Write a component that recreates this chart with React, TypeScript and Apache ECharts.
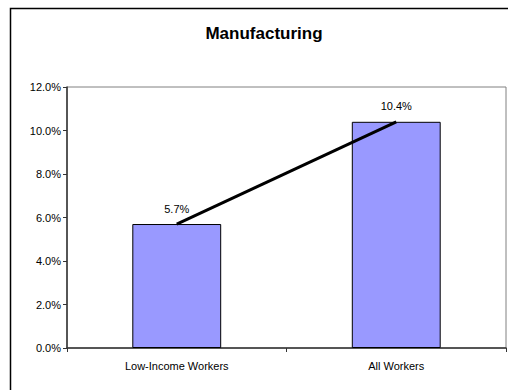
import React, { useEffect, useRef } from "react";
import * as echarts from "echarts";

const categories = ["Low-Income Workers", "All Workers"];
const values = [5.7, 10.4];
const titleText = "Manufacturing";
const yMin = 0;
const yMax = 12;
const yInterval = 2;

export default function App() {
  const ref = useRef<HTMLDivElement>(null);
  useEffect(() => {
    if (!ref.current) return;
    const chart = echarts.init(ref.current, null, { renderer: "svg" });
    const font = "'Liberation Sans', Arial, sans-serif";
    chart.setOption({
      animation: false,
      backgroundColor: "#ffffff",
      title: {
        text: titleText,
        left: 259,
        textAlign: "center",
        top: 20,
        textStyle: { fontFamily: font, fontSize: 17, fontWeight: "bold", color: "#000" },
      },
      graphic: [
        {
          type: "rect",
          shape: { x: 10.5, y: 8.5, width: 520, height: 420 },
          style: { fill: "none", stroke: "#000", lineWidth: 1.5 },
          silent: true,
          z: 100,
        },
      ],
      grid: {
        left: 67,
        top: 87,
        right: 2,
        bottom: 42,
        show: true,
        borderColor: "#808080",
        borderWidth: 1,
        backgroundColor: "#ffffff",
      },
      xAxis: {
        type: "category",
        data: categories,
        axisLine: { lineStyle: { color: "#333", width: 1.5 } },
        axisTick: { show: true, length: 4, lineStyle: { color: "#333" } },
        axisLabel: { fontFamily: font, fontSize: 11, color: "#000", margin: 12 },
      },
      yAxis: {
        type: "value",
        min: yMin,
        max: yMax,
        interval: yInterval,
        axisLine: { show: true, lineStyle: { color: "#333", width: 1.5 } },
        axisTick: { show: true, length: 4, lineStyle: { color: "#333" } },
        splitLine: { show: false },
        axisLabel: {
          fontFamily: font,
          fontSize: 11,
          color: "#000",
          margin: 6,
          formatter: (v: number) => v.toFixed(1) + "%",
        },
      },
      series: [
        {
          type: "bar",
          data: values,
          barWidth: "40.5%",
          itemStyle: { color: "#9999FF", borderColor: "#000", borderWidth: 1 },
          label: {
            show: true,
            position: "top",
            distance: 10,
            fontFamily: font,
            fontSize: 11,
            color: "#000",
            formatter: (p: any) => p.value.toFixed(1) + "%",
          },
        },
        {
          type: "line",
          data: values,
          symbol: "none",
          lineStyle: { color: "#000", width: 3 },
          z: 5,
        },
      ],
    });
    return () => chart.dispose();
  }, []);
  return (
    <div
      ref={ref}
      style={{ position: "fixed", left: 0, top: 0, width: 508, height: 390 }}
    />
  );
}
